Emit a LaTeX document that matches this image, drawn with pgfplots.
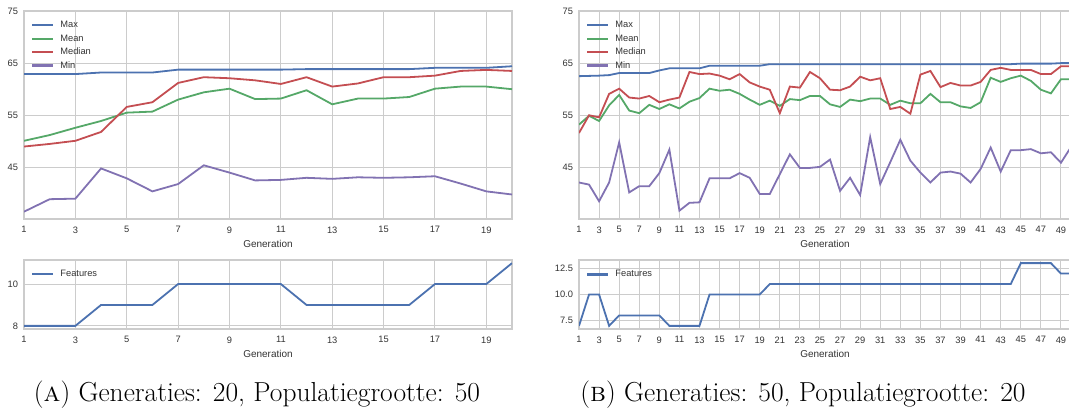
\documentclass[border=0pt]{standalone}
\usepackage{fontspec}
\usepackage{pgfplots}
\usepackage{pgfplotstable}
\pgfplotsset{compat=1.18}
\newfontfamily\sns{Liberation Sans}
\newcommand\tickfont{\sns\fontsize{9.3}{11}\selectfont}
\newcommand\labfont{\sns\fontsize{10}{12}\selectfont}

\definecolor{sbblue}{HTML}{4C72B0}
\definecolor{sbgreen}{HTML}{55A868}
\definecolor{sbred}{HTML}{C44E52}
\definecolor{sbpurple}{HTML}{8172B2}
\definecolor{gridc}{HTML}{CCCCCC}
\definecolor{labc}{HTML}{333333}

% fitness per generation, 20 generations x 50 individuals
\pgfplotstableread{
g max mean median min
1 62.9 50.1 49.0 36.5
2 62.9 51.2 49.5 38.9
3 62.9 52.6 50.1 39.0
4 63.2 53.9 51.8 44.8
5 63.2 55.5 56.6 42.9
6 63.2 55.7 57.5 40.4
7 63.75 58.0 61.2 41.8
8 63.75 59.4 62.3 45.4
9 63.75 60.1 62.1 44.0
10 63.75 58.1 61.7 42.5
11 63.75 58.2 61.0 42.6
12 63.85 59.8 62.3 43.0
13 63.85 57.1 60.5 42.8
14 63.85 58.2 61.1 43.1
15 63.85 58.2 62.3 43.0
16 63.85 58.5 62.3 43.1
17 64.1 60.1 62.6 43.3
18 64.1 60.5 63.5 41.9
19 64.1 60.5 63.7 40.4
20 64.4 60.0 63.5 39.8
}\fitA

\pgfplotstableread{
g f
1 8
2 8
3 8
4 9
5 9
6 9
7 10
8 10
9 10
10 10
11 10
12 9
13 9
14 9
15 9
16 9
17 10
18 10
19 10
20 11
}\featA

% fitness per generation, 50 generations x 20 individuals
\pgfplotstableread{
g max mean median min
1 62.5 53.2 51.6 42.1
2 62.55 54.9 55.0 41.7
3 62.6 53.9 54.6 38.5
4 62.7 56.9 59.1 42.1
5 63.1 58.9 60.1 49.8
6 63.1 55.9 58.4 40.2
7 63.1 55.4 58.2 41.4
8 63.1 57.0 58.7 41.4
9 63.6 56.2 57.5 43.9
10 64.0 57.1 58.0 48.4
11 64.0 56.3 58.4 36.7
12 64.0 57.6 63.3 38.2
13 64.0 58.3 62.9 38.3
14 64.5 60.1 63.0 42.9
15 64.5 59.7 62.6 42.9
16 64.5 59.9 61.9 42.9
17 64.5 59.1 62.9 43.9
18 64.5 58.0 61.3 43.0
19 64.5 57.0 60.5 39.9
20 64.8 57.8 59.9 39.9
21 64.8 56.8 55.4 43.7
22 64.8 58.1 60.5 47.5
23 64.8 57.9 60.3 44.9
24 64.8 58.7 63.3 44.9
25 64.8 58.7 62.1 45.1
26 64.8 57.1 59.9 46.5
27 64.8 56.6 59.8 40.5
28 64.8 58.0 60.5 43.0
29 64.8 57.7 62.4 39.7
30 64.8 58.2 61.7 50.8
31 64.8 58.2 62.1 41.8
32 64.8 57.0 56.2 46.0
33 64.8 57.8 56.6 50.3
34 64.8 57.3 55.3 46.3
35 64.8 57.3 62.8 44.0
36 64.8 59.1 63.5 42.1
37 64.8 57.5 60.4 44.0
38 64.8 57.5 61.2 44.2
39 64.8 56.7 60.7 43.8
40 64.8 56.4 60.7 42.1
41 64.8 57.5 61.4 44.7
42 64.8 62.2 63.7 48.8
43 64.8 61.4 64.1 44.2
44 64.8 62.1 63.7 48.3
45 64.9 62.6 63.7 48.3
46 64.9 61.6 63.7 48.5
47 64.9 59.9 62.9 47.7
48 64.9 59.2 62.9 47.9
49 65.0 61.9 64.4 45.9
50 65.0 61.9 64.4 48.9
}\fitB

\pgfplotstableread{
g f
1 7
2 10
3 10
4 7
5 8
6 8
7 8
8 8
9 8
10 7
11 7
12 7
13 7
14 10
15 10
16 10
17 10
18 10
19 10
20 11
21 11
22 11
23 11
24 11
25 11
26 11
27 11
28 11
29 11
30 11
31 11
32 11
33 11
34 11
35 11
36 11
37 11
38 11
39 11
40 11
41 11
42 11
43 11
44 11
45 13
46 13
47 13
48 13
49 12
50 12
}\featB

\pgfplotsset{
  sns/.style={
    scale only axis,
    anchor=south west,
    axis line style={draw=gridc, line width=1.3pt},
    grid=major,
    major grid style={draw=gridc, line width=1pt},
    major tick length=0pt,
    tick label style={font=\tickfont, text=labc},
    xticklabel style={yshift=-4pt},
    yticklabel style={xshift=-2.5pt},
    xlabel={Generation},
    xlabel style={font=\labfont, text=labc},
    every axis plot/.append style={line width=1.8pt, no markers},
    legend cell align=left,
    legend style={draw=none, fill=none, at={(0,1)}, anchor=north west,
      xshift=4pt, yshift=-5.5pt, font=\tickfont, text=labc, row sep=0pt,
      nodes={inner sep=2.2pt, text height=7pt, text depth=2pt}},
    legend image code/.code={%
      \draw[##1, line width=2.2pt] (0pt,0pt) -- (21pt,0pt);
      \path (25pt,0pt);},
    /pgf/number format/assume math mode=true,
  },
  fit/.style={sns, height=208pt, ymin=35.1, ymax=75, ytick={45,55,65,75}},
  feat/.style={sns, height=69pt},
}

\begin{document}
\begin{tikzpicture}
\path[use as bounding box] (0,0) rectangle (1069pt,415pt);
\clip (0,0) rectangle (1069pt,415pt);

% (a) top
\begin{axis}[fit, at={(24pt,196pt)}, width=488pt,
  xmin=1, xmax=20, xtick={1,3,...,19}]
\addplot[color=sbblue] table[x=g, y=max] {\fitA};
\addplot[color=sbgreen] table[x=g, y=mean] {\fitA};
\addplot[color=sbred] table[x=g, y=median] {\fitA};
\addplot[color=sbpurple] table[x=g, y=min] {\fitA};
\legend{Max,Mean,Median,Min}
\end{axis}

% (a) bottom
\begin{axis}[feat, at={(24pt,86pt)}, width=488pt,
  xmin=1, xmax=20, xtick={1,3,...,19},
  ymin=7.85, ymax=11.15, ytick={8,10}]
\addplot[color=sbblue] table[x=g, y=f] {\featA};
\legend{Features}
\end{axis}

% (b) top
\begin{axis}[fit, at={(579pt,196pt)}, width=492pt,
  xmin=1, xmax=50, xtick={1,3,...,49}]
\addplot[color=sbblue] table[x=g, y=max] {\fitB};
\addplot[color=sbgreen] table[x=g, y=mean] {\fitB};
\addplot[color=sbred] table[x=g, y=median] {\fitB};
\addplot[color=sbpurple] table[x=g, y=min] {\fitB};
\legend{Max,Mean,Median,Min}
\end{axis}

% (b) bottom
\begin{axis}[feat, at={(579pt,86pt)}, width=492pt,
  xmin=1, xmax=50, xtick={1,3,...,49},
  ymin=6.7, ymax=13.3, ytick={7.5,10,12.5},
  yticklabel style={/pgf/number format/.cd, fixed, fixed zerofill, precision=1}]
\addplot[color=sbblue] table[x=g, y=f] {\featB};
\legend{Features}
\end{axis}

\node[anchor=base, font=\fontsize{27.5}{32}\selectfont] at (257pt,13.5pt)
  {(\textsc{a}) Generaties: 20, Populatiegrootte: 50};
\node[anchor=base, font=\fontsize{27.5}{32}\selectfont] at (803pt,13.5pt)
  {(\textsc{b}) Generaties: 50, Populatiegrootte: 20};
\end{tikzpicture}
\end{document}
